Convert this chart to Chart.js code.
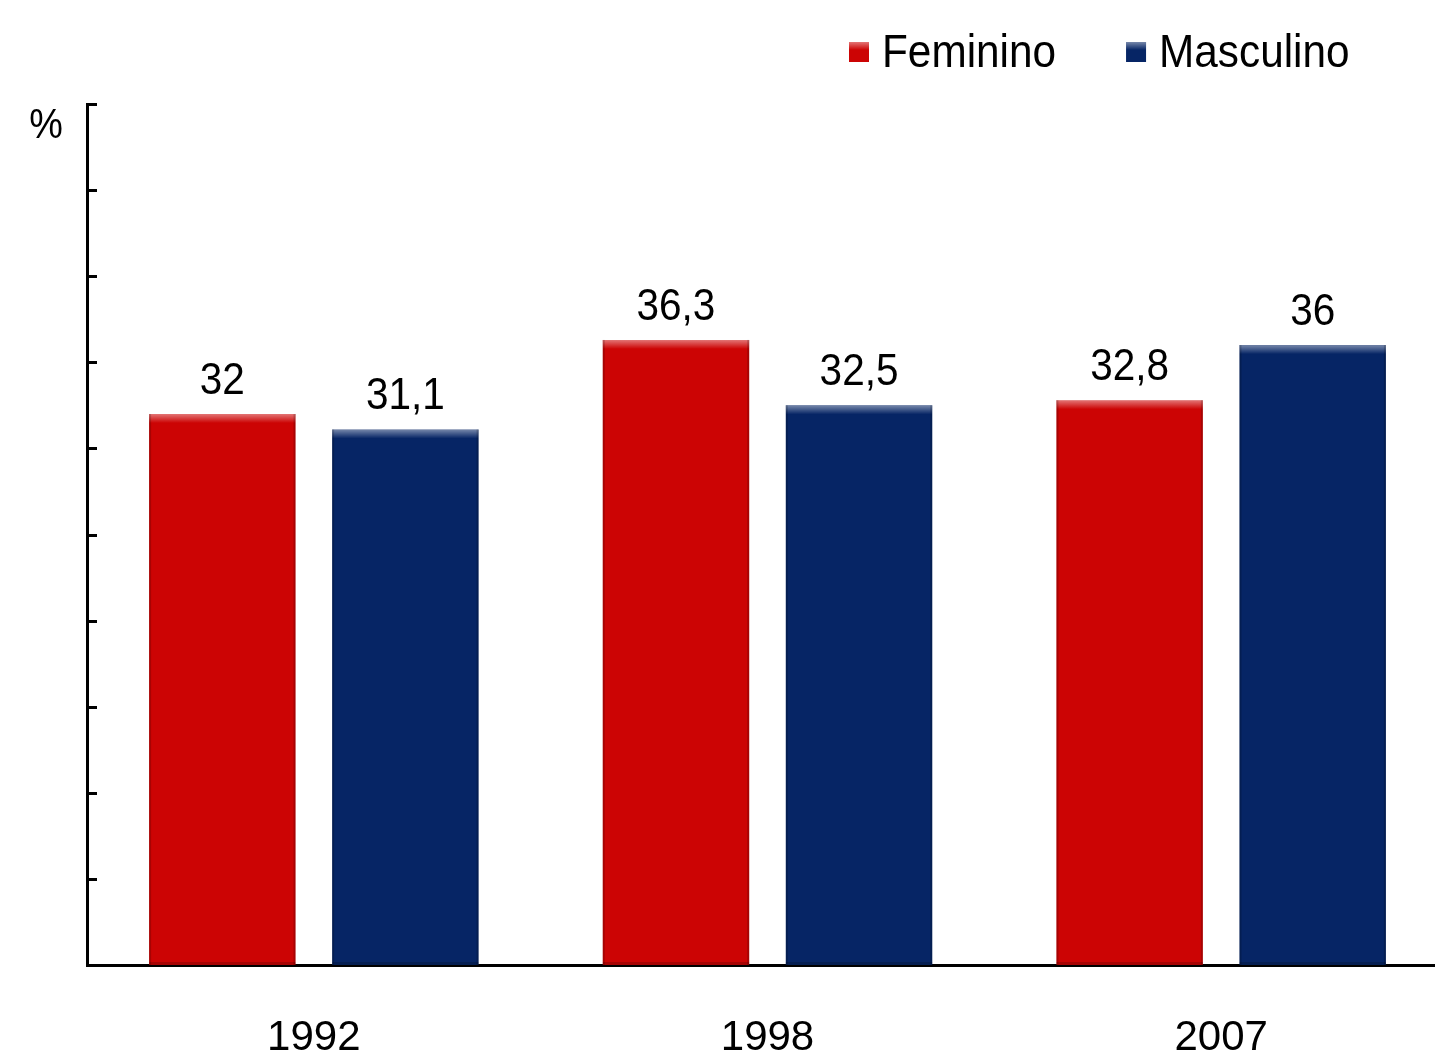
<!DOCTYPE html>
<html>
<head>
<meta charset="utf-8">
<script src="https://cdn.jsdelivr.net/npm/chart.js@4.4.1/dist/chart.umd.min.js"></script>
<style>
    html, body { margin: 0; padding: 0; background: #fff; overflow: hidden; }
    /* the category axis runs a little past the right edge of the picture */
    #wrap { width: 1448px; height: 1056px; }
</style>
</head>
<body>
<div id="wrap"><canvas id="chart"></canvas></div>
<script>
const categories = ['1992', '1998', '2007']
const feminino = [32, 36.3, 32.8]
const masculino = [31.1, 32.5, 36]
const yMax = 50
const yStep = 5

const red = '#cc0404'
const blue = '#062565'
const FONT = '"Liberation Sans", Arial, sans-serif'

function fmt(v) {
    return String(v).replace('.', ',')
}

// text a bit narrower than normal, like the source picture
function narrowText(ctx, text, x, y, align, sx) {
    ctx.save()
    ctx.translate(x, y)
    ctx.scale(sx, 1)
    ctx.textAlign = align
    ctx.fillText(text, 0, 0)
    ctx.restore()
    return ctx.measureText(text).width * sx
}

// small bevel on top of each bar, like the office chart
const bevel = {
    id: 'bevel',
    afterDatasetsDraw(chart) {
        const ctx = chart.ctx
        chart.data.datasets.forEach((ds, i) => {
            chart.getDatasetMeta(i).data.forEach(bar => {
                const l = bar.x - bar.width / 2
                const r = bar.x + bar.width / 2
                const h = bar.base - bar.y
                ctx.save()
                let g = ctx.createLinearGradient(0, bar.y, 0, bar.y + 9)
                g.addColorStop(0, 'rgba(255,255,255,0.45)')
                g.addColorStop(1, 'rgba(255,255,255,0)')
                ctx.fillStyle = g
                ctx.fillRect(l, bar.y, bar.width, 9)
                ctx.fillStyle = 'rgba(0,0,0,0.18)'
                ctx.fillRect(l, bar.y, 2, h)
                ctx.fillRect(r - 2, bar.y, 2, h)
                ctx.fillRect(l, bar.base - 3, bar.width, 3)
                ctx.restore()
            })
        })
    }
}

const valueLabels = {
    id: 'valueLabels',
    afterDatasetsDraw(chart) {
        const ctx = chart.ctx
        ctx.save()
        ctx.font = '45px ' + FONT
        ctx.fillStyle = '#000'
        ctx.textBaseline = 'alphabetic'
        chart.data.datasets.forEach((ds, i) => {
            chart.getDatasetMeta(i).data.forEach((bar, j) => {
                narrowText(ctx, fmt(ds.data[j]), bar.x, bar.y - 20, 'center', 0.9)
            })
        })
        ctx.restore()
    }
}

// inward ticks on the y axis, plus the % unit and the legend
const extras = {
    id: 'extras',
    afterDraw(chart) {
        const ctx = chart.ctx
        const y = chart.scales.y
        const left = chart.chartArea.left
        ctx.save()
        ctx.strokeStyle = '#000'
        ctx.lineWidth = 3
        for (let v = yStep; v <= yMax; v += yStep) {
            const py = Math.round(y.getPixelForValue(v)) + 0.5
            ctx.beginPath()
            ctx.moveTo(left, py)
            ctx.lineTo(left + 10, py)
            ctx.stroke()
        }

        ctx.font = '42px ' + FONT
        ctx.fillStyle = '#000'
        ctx.textBaseline = 'middle'
        narrowText(ctx, '%', 46, 126, 'center', 0.9)

        // legend
        ctx.font = '46px ' + FONT
        const items = chart.data.datasets.map(ds => ({ label: ds.label, color: ds.backgroundColor }))
        let x = 849
        items.forEach(it => {
            ctx.fillStyle = it.color
            ctx.fillRect(x, 42, 20, 20)
            let g = ctx.createLinearGradient(0, 42, 0, 50)
            g.addColorStop(0, 'rgba(255,255,255,0.45)')
            g.addColorStop(1, 'rgba(255,255,255,0)')
            ctx.fillStyle = g
            ctx.fillRect(x, 42, 20, 8)
            ctx.fillStyle = '#000'
            const w = narrowText(ctx, it.label, x + 33, 54, 'left', 0.92)
            x += 33 + w + 70
        })
        ctx.restore()
    }
}

const ctx = document.getElementById('chart').getContext('2d')
new Chart(ctx, {
    type: 'bar',
    data: {
        labels: categories,
        datasets: [{
            label: 'Feminino',
            data: feminino,
            backgroundColor: red,
            borderWidth: 0,
            barPercentage: 0.8,
            categoryPercentage: 0.807
        }, {
            label: 'Masculino',
            data: masculino,
            backgroundColor: blue,
            borderWidth: 0,
            barPercentage: 0.8,
            categoryPercentage: 0.807
        }]
    },
    options: {
        responsive: true,
        maintainAspectRatio: false,
        animation: false,
        layout: { padding: { top: 104, left: 87, right: 0, bottom: 0 } },
        plugins: {
            legend: { display: false },
            tooltip: { enabled: false }
        },
        scales: {
            x: {
                grid: { display: false },
                border: { display: true, color: '#000', width: 3 },
                ticks: {
                    color: '#000',
                    padding: 40,
                    maxRotation: 0,
                    font: { family: FONT, size: 42 }
                },
                afterFit(scale) { scale.height = 91 }
            },
            y: {
                min: 0,
                max: yMax,
                grid: { display: false },
                border: { display: true, color: '#000', width: 3 },
                ticks: { display: false, stepSize: yStep },
                afterFit(scale) { scale.width = 0 }
            }
        }
    },
    plugins: [bevel, valueLabels, extras]
})
</script>
</body>
</html>
